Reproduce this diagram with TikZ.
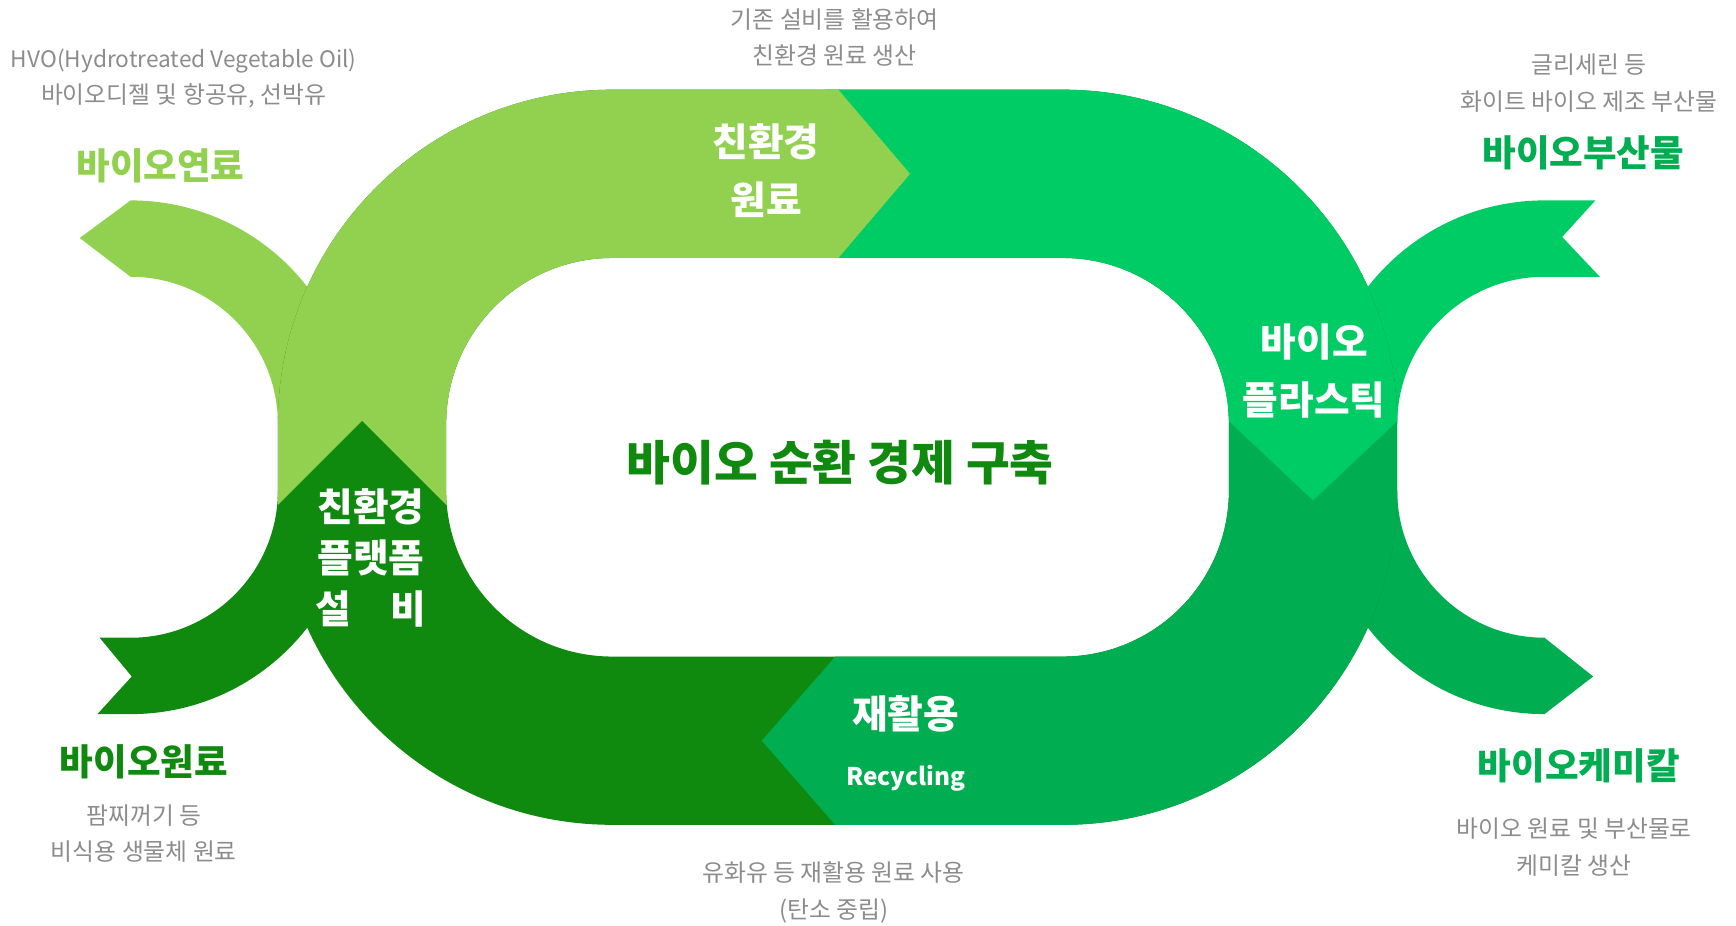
\documentclass[tikz,border=0pt]{standalone}
\usepackage{fontspec}
\setmainfont{Noto Sans CJK KR}
\definecolor{lgreen}{RGB}{146,208,80}
\definecolor{bgreen}{RGB}{0,204,102}
\definecolor{mgreen}{RGB}{0,173,80}
\definecolor{dgreen}{RGB}{16,137,15}
\definecolor{txtgray}{RGB}{140,140,140}
\tikzset{
  graynote/.style={text=txtgray,align=center,font=\fontsize{21.5}{33}\selectfont},
  bigname/.style={font=\bfseries\fontsize{33}{40}\selectfont},
  inband/.style={text=white,align=center,font=\bfseries\fontsize{35}{#1}\selectfont},
}
\newcommand\loopband{[rounded corners=302pt](251,81) rectangle (1262,745) [rounded corners=150pt](403,233) rectangle (1110,593)}
\begin{document}
\begin{tikzpicture}[x=1pt,y=-1pt]
\useasboundingbox (0,0) rectangle (1568,836);
\fill[lgreen](118,181) arc[start angle=-90,end angle=0,radius=202]--(251,383) arc[start angle=0,end angle=-90,radius=133]--(72,215)--cycle;
\fill[dgreen](251,443) arc[start angle=0,end angle=90,radius=133]--(90,576)--(119,611)--(88,645)--(118,645) arc[start angle=90,end angle=0,radius=202]--cycle;
\fill[bgreen](1193,383) arc[start angle=180,end angle=270,radius=202]--(1441,181)--(1411,214)--(1445,250)--(1395,250) arc[start angle=270,end angle=180,radius=133]--cycle;
\fill[mgreen](1262,443) arc[start angle=180,end angle=90,radius=133]--(1439,611)--(1395,645) arc[start angle=90,end angle=180,radius=202]--cycle;
\fill[dgreen,even odd rule]\loopband;
\begin{scope}
\clip(1000,370)--(1300,370)--(1300,800)--(764,800)--(764,756)--(688,669)--(764,582)--(764,500)--(1000,500)--cycle;
\fill[mgreen,even odd rule]\loopband;
\end{scope}
\begin{scope}
\clip(745,40)--(1300,40)--(1300,371)--(1272,371)--(1186,452)--(1100,371)--(1000,371)--(1000,300)--(745,300)--cycle;
\fill[bgreen,even odd rule]\loopband;
\end{scope}
\begin{scope}
\clip(0,0)--(747,0)--(747,69)--(822,157)--(747,245)--(747,467)--(414,467)--(327,380)--(240,467)--(0,467)--cycle;
\fill[lgreen,even odd rule]\loopband;
\end{scope}
\node[bigname,font=\bfseries\fontsize{43}{50}\selectfont,text=dgreen](goal) at (759,418){바이오 순환 경제 구축};
\node[inband=52](raw) at (692,154){친환경\\원료};
\node[inband=53](plastic) at (1187,335){바이오\\플라스틱};
\node[inband=46](plant) at (335,504){친환경\\플랫폼\\설\hspace{1em}비};
\node[inband=40](recyc) at (818,645){재활용};
\node[text=white,font=\bfseries\fontsize{22}{26}\selectfont](recyceng) at (818,703){Recycling};
\foreach \n/\x/\y/\c/\t in {fuel/145/150/lgreen/바이오연료,byprod/1430/138/mgreen/바이오부산물,feed/130/688/dgreen/바이오원료,chem/1426/692/mgreen/바이오케미칼}
  {\node[bigname,text=\c](\n) at (\x,\y){\t};}
\foreach \n/\x/\y/\t in {fuelnote/166/71/{{\fontsize{20.5}{33}\selectfont HVO(Hydrotreated Vegetable Oil)}\\바이오디젤 및 항공유, 선박유},rawnote/754/34/{기존 설비를 활용하여\\친환경 원료 생산},byprodnote/1435/75/{글리세린 등\\화이트 바이오 제조 부산물},feednote/130/753/{팜찌꺼기 등\\비식용 생물체 원료},chemnote/1422/765/{바이오 원료 및 부산물로\\케미칼 생산},recycnote/753/806/{유화유 등 재활용 원료 사용\\(탄소 중립)}}
  {\node[graynote](\n) at (\x,\y){\t};}
\end{tikzpicture}
\end{document}
